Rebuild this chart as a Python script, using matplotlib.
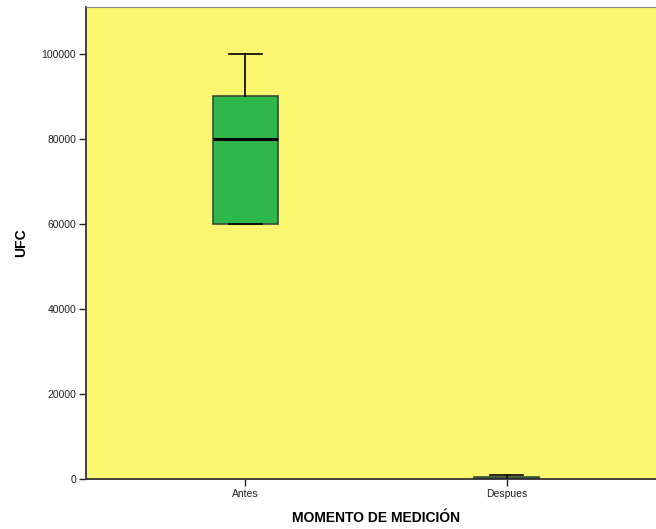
import matplotlib.pyplot as plt

plt.rcParams['font.family'] = ['Liberation Sans', 'DejaVu Sans']

# datos (UFC)
categorias = ['Antes', 'Despues']
antes = [60000, 60000, 80000, 90000, 100000]
despues = [0, 0, 100, 400, 900]
yticks = [0, 20000, 40000, 60000, 80000, 100000]

fig = plt.figure(figsize=(6.56, 5.29), dpi=100)
# el area del grafico se sale un poco por la derecha como en el original
ax = fig.add_axes([86 / 656, 1 - 479 / 529, 580 / 656, 472 / 529])
ax.set_facecolor('#FAF66F')

ax.boxplot([antes, despues], positions=[1, 2], widths=0.25, patch_artist=True,
           whis=1.5, showfliers=False,
           boxprops=dict(facecolor='#2EB84A', edgecolor='#3A4A36', linewidth=1.2),
           medianprops=dict(color='black', linewidth=2.2),
           whiskerprops=dict(color='black', linewidth=1.2),
           capprops=dict(color='black', linewidth=1.2))

ax.set_xlim(0.39, 2.61)
ax.set_ylim(0, 111000)
ax.set_xticks([1, 2])
ax.set_xticklabels(categorias, fontsize=7.5, color='#222222')
ax.set_yticks(yticks)
ax.set_yticklabels([str(v) for v in yticks], fontsize=7.5, color='#222222')
ax.tick_params(direction='out', length=5, width=1, colors='#222222', pad=2)

for s in ['left', 'bottom']:
    ax.spines[s].set_color('#333333')
    ax.spines[s].set_linewidth(1.3)
ax.spines['top'].set_color('#888888')
ax.spines['right'].set_visible(False)

ax.set_xlabel('MOMENTO DE MEDICIÓN', fontsize=10, fontweight='bold', labelpad=9)
ax.set_ylabel('UFC', fontsize=10, fontweight='bold', labelpad=10)

fig.savefig('out.png', dpi=100)
